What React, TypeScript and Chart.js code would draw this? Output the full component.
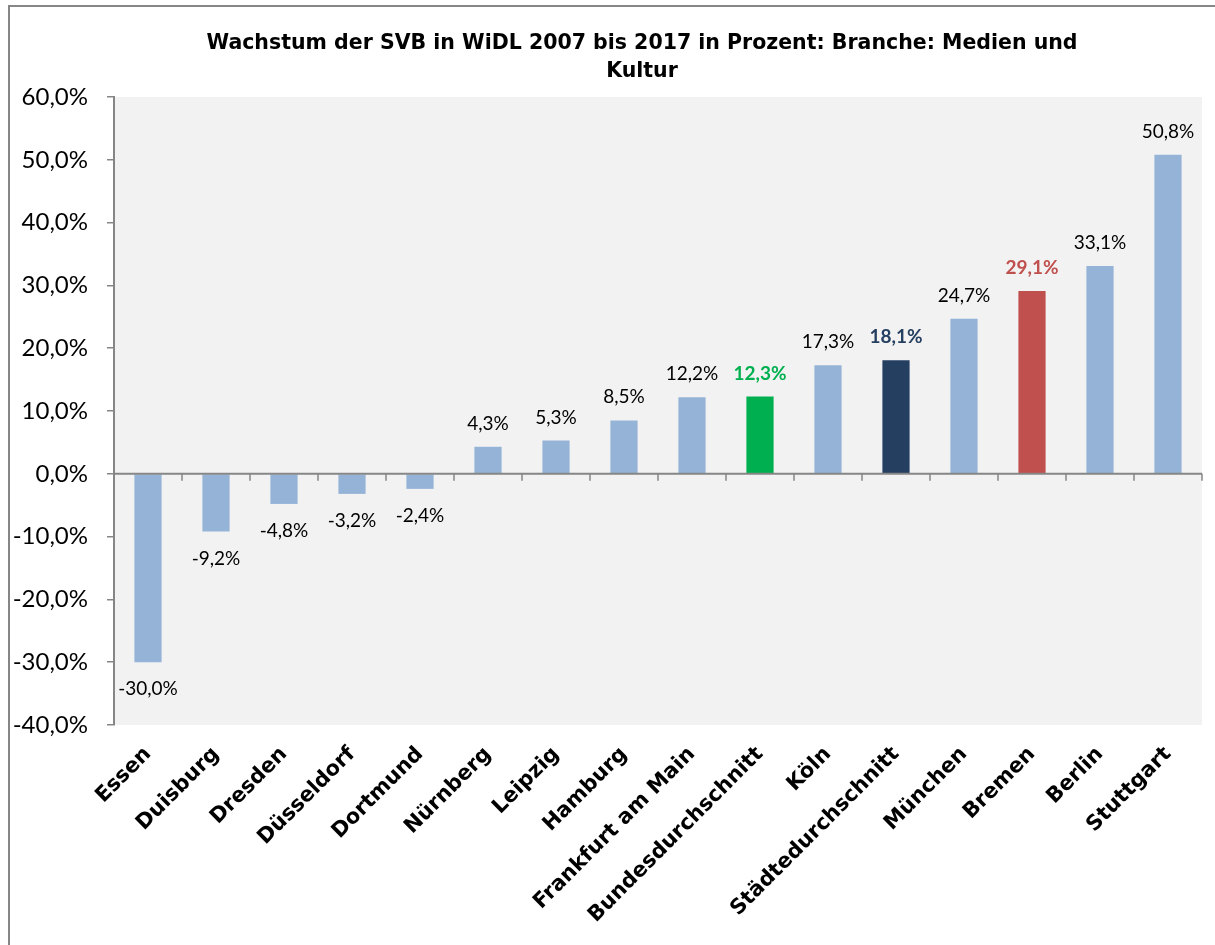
import React, { useEffect, useRef } from "react";
import { Chart, registerables } from "chart.js";

Chart.register(...registerables);

const categories = [
  "Essen",
  "Duisburg",
  "Dresden",
  "Düsseldorf",
  "Dortmund",
  "Nürnberg",
  "Leipzig",
  "Hamburg",
  "Frankfurt am Main",
  "Bundesdurchschnitt",
  "Köln",
  "Städtedurchschnitt",
  "München",
  "Bremen",
  "Berlin",
  "Stuttgart",
];

const values = [-30.0, -9.2, -4.8, -3.2, -2.4, 4.3, 5.3, 8.5, 12.2, 12.3, 17.3, 18.1, 24.7, 29.1, 33.1, 50.8];

const LIGHT = "#95b3d7";
const barColors = [
  LIGHT, LIGHT, LIGHT, LIGHT, LIGHT, LIGHT, LIGHT, LIGHT, LIGHT,
  "#00b050", LIGHT, "#243f60", LIGHT, "#c0504d", LIGHT, LIGHT,
];
const labelColors = [
  "#000", "#000", "#000", "#000", "#000", "#000", "#000", "#000", "#000",
  "#00b050", "#000", "#243f60", "#000", "#c0504d", "#000", "#000",
];
const labelBold = [
  false, false, false, false, false, false, false, false, false,
  true, false, true, false, true, false, false,
];

const titleLines = [
  "Wachstum der SVB in WiDL 2007 bis 2017 in Prozent: Branche: Medien und",
  "Kultur",
];

const yMin = -40;
const yMax = 60;
const yStep = 10;

const fmt = (v: number) => v.toFixed(1).replace(".", ",") + "%";

const AXIS_COLOR = "#868686";

const plotBg = {
  id: "plotBg",
  beforeDraw(chart: any) {
    const { ctx, chartArea } = chart;
    ctx.save();
    ctx.fillStyle = "#f2f2f2";
    ctx.fillRect(chartArea.left, chartArea.top, chartArea.right - chartArea.left, chartArea.bottom - chartArea.top);
    ctx.restore();
  },
};

const zeroAxis = {
  id: "zeroAxis",
  afterDatasetsDraw(chart: any) {
    const { ctx, scales } = chart;
    const x = scales.x;
    const y = scales.y;
    const y0 = y.getPixelForValue(0);
    ctx.save();
    ctx.strokeStyle = AXIS_COLOR;
    ctx.lineWidth = 2;
    ctx.beginPath();
    ctx.moveTo(x.getPixelForValue(-0.5), y0);
    ctx.lineTo(x.getPixelForValue(categories.length - 0.5), y0);
    ctx.stroke();
    ctx.lineWidth = 1.5;
    for (let i = 0; i <= categories.length; i++) {
      const px = Math.round(x.getPixelForValue(i - 0.5));
      ctx.beginPath();
      ctx.moveTo(px, y0);
      ctx.lineTo(px, y0 + 7);
      ctx.stroke();
    }
    ctx.restore();
  },
};

const dataLabels = {
  id: "dataLabels",
  afterDatasetsDraw(chart: any) {
    const { ctx } = chart;
    const meta = chart.getDatasetMeta(0);
    ctx.save();
    ctx.textAlign = "center";
    ctx.textBaseline = "alphabetic";
    meta.data.forEach((bar: any, i: number) => {
      const v = values[i];
      ctx.font = `${labelBold[i] ? "bold " : ""}19px Lato`;
      ctx.fillStyle = labelColors[i];
      const ty = v >= 0 ? bar.y - 17 : bar.y + 33;
      ctx.fillText(fmt(v), bar.x, ty);
    });
    ctx.restore();
  },
};

export default function App() {
  const ref = useRef<HTMLCanvasElement | null>(null);

  useEffect(() => {
    if (!ref.current) return;
    const chart = new Chart(ref.current, {
      type: "bar",
      data: {
        labels: categories,
        datasets: [
          {
            data: values,
            backgroundColor: barColors,
            borderWidth: 0,
            barPercentage: 0.4,
            categoryPercentage: 1,
          },
        ],
      },
      options: {
        responsive: false,
        animation: false,
        devicePixelRatio: 1,
        layout: { padding: 0 },
        plugins: {
          legend: { display: false },
          tooltip: { enabled: false },
          title: {
            display: true,
            text: titleLines,
            color: "#000",
            font: { family: "DejaVu Sans", weight: "bold", size: 20.5, lineHeight: 28 / 20.5 },
            padding: { top: 23, bottom: 11 },
          },
        },
        scales: {
          x: {
            type: "category",
            offset: true,
            grid: { display: false },
            border: { display: false },
            ticks: {
              autoSkip: false,
              minRotation: 45,
              maxRotation: 45,
              padding: 9,
              color: "#000",
              font: { family: "DejaVu Sans", weight: "bold", size: 21 },
            },
            afterFit(scale: any) {
              scale.height = 227;
            },
          },
          y: {
            min: yMin,
            max: yMax,
            grid: {
              drawOnChartArea: false,
              drawTicks: true,
              tickLength: 7,
              color: AXIS_COLOR,
              lineWidth: 1.5,
            },
            border: { display: true, color: AXIS_COLOR, width: 2 },
            ticks: {
              stepSize: yStep,
              padding: 19,
              color: "#000",
              font: { family: "Lato", size: 24 },
              callback: (v: any) => fmt(Number(v)),
            },
            afterFit(scale: any) {
              scale.width = 104;
            },
          },
          yRightSpace: {
            type: "linear",
            position: "right",
            display: true,
            grid: { display: false, drawTicks: false },
            border: { display: false },
            ticks: { display: false },
            afterFit(scale: any) {
              scale.width = 72;
            },
          },
        },
      },
      plugins: [plotBg, zeroAxis, dataLabels],
    });
    return () => chart.destroy();
  }, []);

  return (
    <div style={{ position: "absolute", left: 0, top: 0, width: 1215, height: 945, overflow: "hidden", background: "#fff" }}>
      <div
        style={{
          position: "absolute",
          left: 8,
          top: 5,
          width: 1264,
          height: 945,
          border: `2px solid ${AXIS_COLOR}`,
          background: "#fff",
        }}
      >
        <canvas ref={ref} width={1264} height={945} style={{ display: "block" }} />
      </div>
    </div>
  );
}
